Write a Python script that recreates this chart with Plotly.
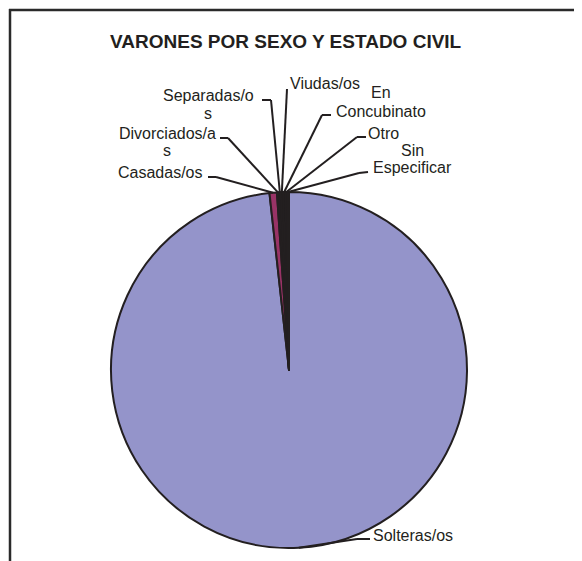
import math
import plotly.graph_objects as go

# ---- data ----
categories = ["Solteras/os", "Casadas/os", "Divorciados/as", "Separadas/os",
              "Viudas/os", "En Concubinato", "Otro", "Sin Especificar"]
values = [9825, 67, 18, 16, 20, 22, 16, 16]
label_lines = [["Solteras/os"], ["Casadas/os"], ["Divorciados/a", "s"], ["Separadas/o", "s"],
               ["Viudas/os"], ["En", "Concubinato"], ["Otro"], ["Sin", "Especificar"]]
slice_colors = ["#9494CA", "#993366", "#231F20", "#231F20",
                "#231F20", "#231F20", "#231F20", "#231F20"]
title_text = "VARONES POR SEXO Y ESTADO CIVIL"

# ---- layout geometry (page pixels; page body has an 8px margin) ----
OFF = 8
W, H = 574, 553
CX, CY, R = 289, 370, 178

def px(x, y):
    return (x - OFF) / W, 1 - (y - OFF) / H

# label centres (first line) and leader elbows / ends (pixels)
label_pos = [(413, 535), (160, 173), (167, 133), (208, 95),
             (325, 83), (381, 93), (384, 133), (412, 150)]
line_gap = 18
leader_end = [(370, 539), (208, 177), (220, 138), (262, 100),
              (287, 89), (331, 115), (366, 137), (368, 172)]
leader_elbow = [(357, 539), (216, 177), (228, 138), (271, 100),
                (287, 89), (322, 115), (357, 137), (359, 173)]

fig = go.Figure()
fig.add_trace(go.Pie(
    labels=categories, values=values, sort=False, direction="clockwise",
    rotation=0, textinfo="none", hoverinfo="label+value+percent",
    marker=dict(colors=slice_colors, line=dict(color="#231F20", width=2)),
    domain=dict(x=[(CX - R - OFF) / W, (CX + R - OFF) / W],
                y=[1 - (CY + R - OFF) / H, 1 - (CY - R - OFF) / H]),
    showlegend=False,
))

shapes = []
annotations = []
font = dict(family="Liberation Sans, Arial", size=16, color="#231F20")
total = sum(values)
cum = 0
for i, v in enumerate(values):
    mid = (cum + v / 2) / total * 2 * math.pi
    cum += v
    ax = CX + R * math.sin(mid)
    ay = CY - R * math.cos(mid)
    pts = [(ax, ay), leader_elbow[i], leader_end[i]]
    for (x0, y0), (x1, y1) in zip(pts[:-1], pts[1:]):
        if (x0, y0) == (x1, y1):
            continue
        p0, p1 = px(x0, y0), px(x1, y1)
        shapes.append(dict(type="line", xref="paper", yref="paper",
                           x0=p0[0], y0=p0[1], x1=p1[0], y1=p1[1],
                           line=dict(color="#231F20", width=2)))
    for j, t in enumerate(label_lines[i]):
        lx, ly = px(label_pos[i][0], label_pos[i][1] + j * line_gap)
        annotations.append(dict(text=t, x=lx, y=ly, xref="paper", yref="paper",
                                xanchor="center", yanchor="middle", showarrow=False,
                                font=font))

tx, ty = px(286, 42)
annotations.append(dict(text="<b>" + title_text + "</b>", x=tx, y=ty, xref="paper", yref="paper",
                        xanchor="center", yanchor="middle", showarrow=False,
                        font=dict(family="Liberation Sans, Arial", size=19, color="#231F20")))

# frame (top and left border)
fx0, fy0 = px(10, 10)
shapes.append(dict(type="line", xref="paper", yref="paper", x0=fx0 - 1 / W, y0=fy0, x1=1, y1=fy0,
                   line=dict(color="#2A2A2A", width=2.5)))
shapes.append(dict(type="line", xref="paper", yref="paper", x0=fx0, y0=fy0 + 1 / H, x1=fx0, y1=0,
                   line=dict(color="#2A2A2A", width=2.5)))

fig.update_layout(width=W, height=H, margin=dict(l=0, r=0, t=0, b=0),
                  paper_bgcolor="white", plot_bgcolor="white",
                  shapes=shapes, annotations=annotations)

fig.write_html("out.html")
